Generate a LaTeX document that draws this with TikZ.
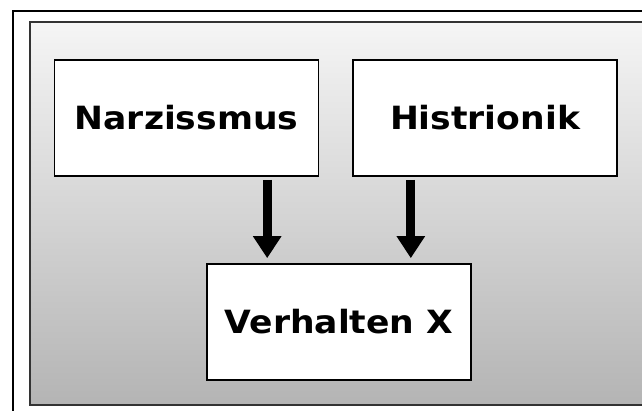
\documentclass[tikz,border=0pt]{standalone}
\usepackage{fontspec}
\setmainfont[BoldFeatures={FakeStretch=1.08}]{DejaVu Sans}
\usetikzlibrary{arrows.meta}
\definecolor{PanelTop}{HTML}{F5F5F5}
\definecolor{PanelBottom}{HTML}{B4B4B4}

\begin{document}
\begin{tikzpicture}[x=1pt,y=-1pt,
  box/.style={draw=black,line width=1.6pt,fill=white,minimum width=264pt,minimum height=116pt,inner sep=0pt,font=\bfseries\fontsize{32}{32}\selectfont},
  flow/.style={line width=9pt,-{Triangle[width=27pt,length=22pt]},shorten <=3pt,shorten >=5pt}]
  \useasboundingbox (0,0) rectangle (642,410);
  \begin{scope}
    \clip (0,0) rectangle (642,410);
    \draw[line width=2pt] (13,11) rectangle (660,430);
    \shade[top color=PanelTop,bottom color=PanelBottom,draw=black!80,line width=2pt] (30,22) rectangle (660,405);
  \end{scope}
  \node[box] (narz) at (186.5,118) {Narzissmus};
  \node[box] (hist) at (485,118) {Histrionik};
  \node[box] (verh) at (339,322) {Verhalten X};
  \coordinate (inL) at ([xshift=61pt]verh.north west);
  \coordinate (inR) at ([xshift=-61pt]verh.north east);
  \draw[flow] (narz.south -| inL) -- (inL);
  \draw[flow] (hist.south -| inR) -- (inR);
\end{tikzpicture}
\end{document}
